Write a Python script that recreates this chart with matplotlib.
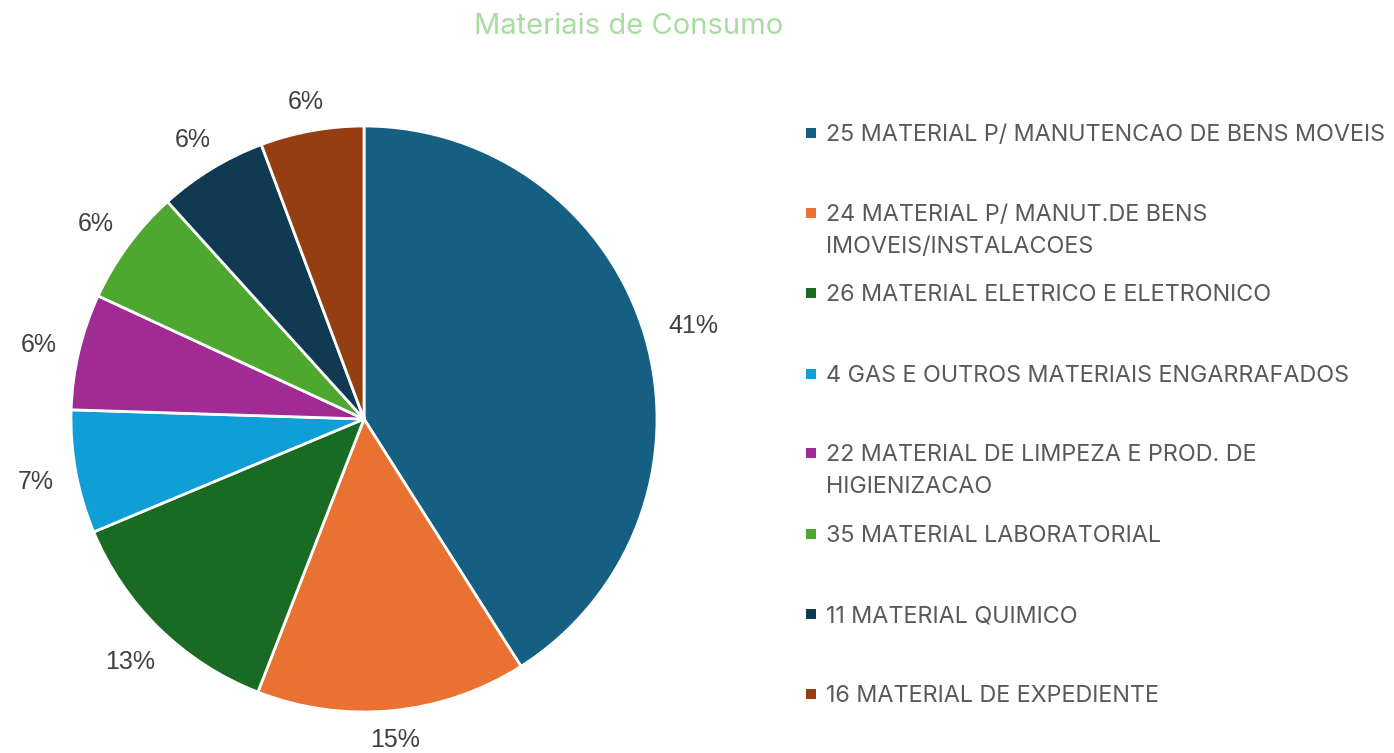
import numpy as np
import matplotlib
matplotlib.use("Agg")
import matplotlib.pyplot as plt
from matplotlib.patches import Rectangle


# ----------------------------
# Data
# ----------------------------

categories = [
    "25 MATERIAL P/ MANUTENCAO DE BENS MOVEIS",
    "24 MATERIAL P/ MANUT.DE BENS\nIMOVEIS/INSTALACOES",
    "26 MATERIAL ELETRICO E ELETRONICO",
    "4 GAS E OUTROS MATERIAIS ENGARRAFADOS",
    "22 MATERIAL DE LIMPEZA E PROD. DE\nHIGIENIZACAO",
    "35 MATERIAL LABORATORIAL",
    "11 MATERIAL QUIMICO",
    "16 MATERIAL DE EXPEDIENTE",
]

shares = [41.0, 14.9, 12.8, 6.8, 6.4, 6.4, 6.0, 5.7]

colors = [
    "#156082",
    "#E97132",
    "#196B24",
    "#0F9ED5",
    "#A02B93",
    "#4EA72E",
    "#0F3A51",
    "#953E12",
]

W, H = 1394, 753


def fx(px):
    return px / W


def fy(py):
    return 1 - py / H


# ----------------------------
# Figure
# ----------------------------

fig = plt.figure(figsize=(W / 100, H / 100), dpi=100)

# pie area: center (364, 419), radius 293 px
R = 293
box = 2 * 1.25 * R
ax = fig.add_axes([
    fx(364 - box / 2),
    fy(419 + box / 2),
    box / W,
    box / H
])

wedges, _ = ax.pie(
    shares,
    colors=colors,
    startangle=90,
    counterclock=False,
    wedgeprops=dict(edgecolor="white", linewidth=2)
)

ax.set_xlim(-1.25, 1.25)
ax.set_ylim(-1.25, 1.25)

# percentage labels just outside each wedge
total = sum(shares)
for w, val in zip(wedges, shares):

    mid = np.deg2rad((w.theta1 + w.theta2) / 2)
    c, s = np.cos(mid), np.sin(mid)

    txt = f"{val / total * 100:.0f}%"
    half_w = 8.5 * len(txt)
    half_h = 5 if s > 0 else 0
    dist = R + 24 + half_w * abs(c) + half_h * abs(s)

    ax.text(
        c * dist / R, (s * dist - 3) / R,
        txt,
        ha="center", va="center",
        family="Liberation Sans",
        fontsize=18,
        color="#404040"
    )

# ----------------------------
# Title
# ----------------------------

fig.text(
    fx(629), fy(27),
    "Materiais de Consumo",
    ha="center", va="center",
    fontsize=21,
    family="Inter",
    color="#A8DCA0"
)

# ----------------------------
# Legend (manual, first line aligned to marker)
# ----------------------------

first_line_y = [133, 213, 293, 374, 453, 534, 614, 694]

for label, col, yc in zip(categories, colors, first_line_y):

    fig.add_artist(Rectangle(
        (fx(806), fy(yc + 5)),
        10 / W, 10 / H,
        transform=fig.transFigure,
        facecolor=col,
        edgecolor="none"
    ))

    for k, line in enumerate(label.split("\n")):
        fig.text(
            fx(826), fy(yc + 8 + k * 32),
            line,
            ha="left", va="baseline",
            fontsize=16.8,
            family="Inter",
            color="#595959"
        )

fig.savefig("out.png", dpi=100)
